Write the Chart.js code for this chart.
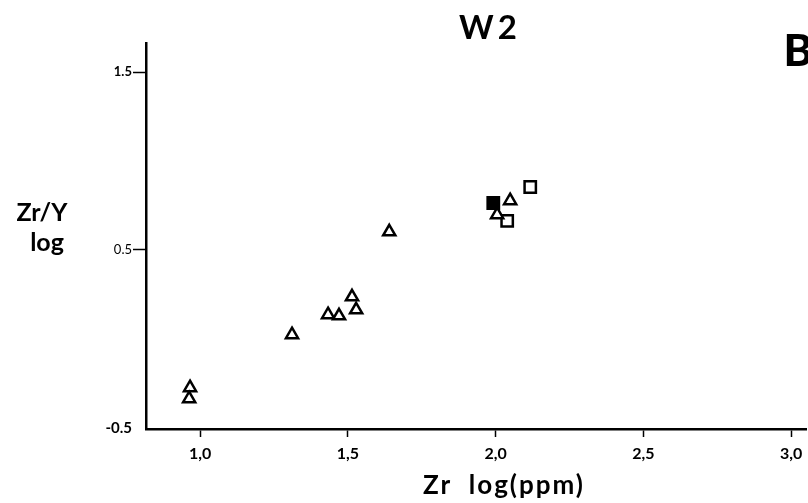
<!DOCTYPE html>
<html>
<head>
<meta charset="utf-8">
<script src="https://cdn.jsdelivr.net/npm/chart.js@4.4.1/dist/chart.umd.min.js"></script>
<style>
  body { margin: 0; background: #fff; }
  #box { width: 808px; height: 503px; }
</style>
</head>
<body>
<div id="box"><canvas id="myChart"></canvas></div>
<script>
// open triangles
let triangleX = [0.966, 0.963, 1.311, 1.433, 1.470, 1.528, 1.514, 1.640, 2.005, 2.049];
let triangleY = [-0.274, -0.336, 0.024, 0.136, 0.130, 0.164, 0.237, 0.602, 0.698, 0.777];
// open squares
let squareX = [2.039, 2.117];
let squareY = [0.663, 0.854];
// filled square
let filledX = [1.992];
let filledY = [0.764];

let xTicks = [1.0, 1.5, 2.0, 2.5, 3.0];
let yTicks = [-0.5, 0.5, 1.5];

let fontName = "Lato, 'DejaVu Sans', sans-serif";

function toPoints(xs, ys) {
  let points = [];
  for (let i = 0; i < xs.length; i++) {
    points.push({ x: xs[i], y: ys[i] });
  }
  return points;
}

function yTickFont(ctx) {
  let v = ctx.tick ? ctx.tick.value : 0;
  if (v == -0.5) return { family: fontName, size: 15, weight: "bold" };
  if (v == 0.5) return { family: fontName, size: 13, weight: "normal" };
  return { family: fontName, size: 13, weight: "bold" };
}

// texts that are not axis ticks
const labelPlugin = {
  id: "labels",
  afterDraw(chart) {
    let c = chart.ctx;
    c.save();
    c.fillStyle = "#000";
    c.textAlign = "center";
    c.textBaseline = "middle";

    c.font = `bold 33px ${fontName}`;
    c.letterSpacing = "4px";
    c.fillText("W2", 490, 28);
    c.letterSpacing = "0px";

    c.font = `900 44px ${fontName}`;
    c.fillText("B", 798, 52);

    c.font = `bold 25px ${fontName}`;
    c.fillText("Zr/Y", 42, 213);
    c.fillText("log", 47, 243);

    c.font = `bold 26px ${fontName}`;
    c.letterSpacing = "2px";
    c.fillText("Zr  log(ppm)", 504, 486);
    c.restore();
  },
};

const ctx = document.getElementById("myChart");

new Chart(ctx, {
  type: "scatter",
  data: {
    datasets: [
      {
        data: toPoints(triangleX, triangleY),
        pointStyle: "triangle",
        pointRadius: 7,
        borderWidth: 2.5,
        borderColor: "#000",
        backgroundColor: "#fff",
      },
      {
        data: toPoints(squareX, squareY),
        pointStyle: "rect",
        pointRadius: 8,
        borderWidth: 2.5,
        borderColor: "#000",
        backgroundColor: "#fff",
      },
      {
        data: toPoints(filledX, filledY),
        pointStyle: "rect",
        pointRadius: 8,
        borderWidth: 2.5,
        borderColor: "#000",
        backgroundColor: "#000",
      },
    ],
  },
  options: {
    responsive: true,
    maintainAspectRatio: false,
    animation: false,
    events: [],
    layout: {
      autoPadding: false,
      padding: { top: 43, right: 2, left: 0, bottom: 0 },
    },
    scales: {
      x: {
        type: "linear",
        min: 0.817,
        max: 3.05,
        afterBuildTicks: (scale) => {
          scale.ticks = xTicks.map((v) => ({ value: v }));
        },
        afterFit: (scale) => {
          scale.height = 74;
          scale.paddingLeft = 0;
          scale.paddingRight = 0;
        },
        border: { color: "#000", width: 2.5 },
        grid: {
          drawOnChartArea: false,
          drawTicks: true,
          tickLength: 8,
          tickColor: "#000",
          tickWidth: 1.5,
        },
        ticks: {
          color: "#000",
          padding: 7,
          maxRotation: 0,
          font: { family: fontName, size: 16, weight: "bold" },
          callback: (v) => Number(v).toFixed(1).replace(".", ","),
        },
      },
      y: {
        type: "linear",
        min: -0.506,
        max: 1.663,
        afterBuildTicks: (scale) => {
          scale.ticks = yTicks.map((v) => ({ value: v }));
        },
        afterFit: (scale) => {
          scale.width = 146;
          scale.paddingTop = 0;
          scale.paddingBottom = 0;
        },
        border: { color: "#000", width: 2.5 },
        grid: {
          drawOnChartArea: false,
          drawTicks: true,
          tickLength: 13,
          tickColor: (c) => (c.tick && c.tick.value == -0.5 ? "rgba(0,0,0,0)" : "#000"),
          tickWidth: 1.5,
        },
        ticks: {
          color: "#000",
          padding: 1,
          font: yTickFont,
          callback: (v) => Number(v).toFixed(1),
        },
      },
    },
    plugins: {
      legend: { display: false },
      tooltip: { enabled: false },
    },
  },
  plugins: [labelPlugin],
});
</script>
</body>
</html>
